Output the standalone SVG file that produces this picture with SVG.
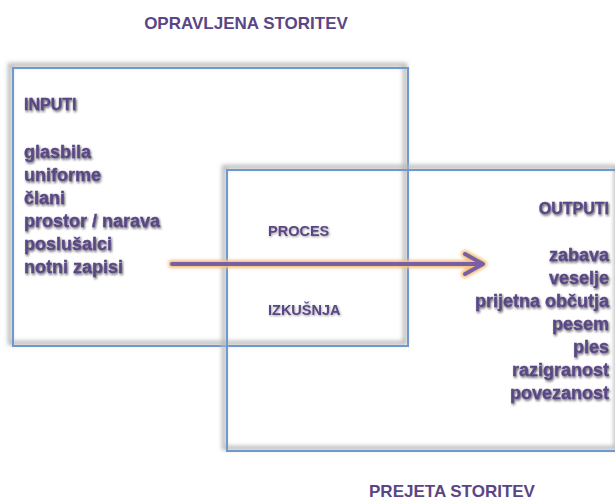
<svg xmlns="http://www.w3.org/2000/svg" width="615" height="500" viewBox="0 0 615 500">
<defs>
<style>
.t{font-family:"Liberation Sans",Arial,sans-serif;font-weight:bold;fill:#5a4686;}
.title{font-size:17px;}
.item{font-size:18px;filter:url(#shadow);stroke:#5a4686;stroke-width:0.3;}
.head{font-size:16px;filter:url(#shadow);stroke:#5a4686;stroke-width:0.3;}
.mid{font-size:14.5px;filter:url(#shadowS);}
.r{text-anchor:end;}
.box{fill:none;stroke:#6e98cf;stroke-width:2;}
.boxsh{fill:none;stroke:#b5b5b5;stroke-width:4;filter:url(#blur);}
</style>
<filter id="shadow" x="-10%" y="-30%" width="130%" height="170%">
<feDropShadow dx="1" dy="1.5" stdDeviation="1.3" flood-color="#1a1a1a" flood-opacity="0.7"/>
</filter>
<filter id="shadowS" x="-10%" y="-30%" width="130%" height="170%">
<feDropShadow dx="0.8" dy="1" stdDeviation="0.8" flood-color="#222" flood-opacity="0.45"/>
</filter>
<filter id="blur" x="-5%" y="-5%" width="110%" height="110%">
<feGaussianBlur stdDeviation="2"/>
</filter>
<filter id="glow" x="-10%" y="-100%" width="120%" height="300%">
<feGaussianBlur stdDeviation="1.5"/>
</filter>
</defs>
<rect width="615" height="500" fill="#ffffff"/>
<text class="t title" x="246" y="29" text-anchor="middle">OPRAVLJENA STORITEV</text>
<g id="opravljena">
<rect class="boxsh" x="10" y="65" width="395" height="278"/>
<rect class="box" x="13" y="68" width="395" height="278"/>
</g>
<g id="prejeta">
<rect class="boxsh" x="224" y="167" width="392" height="281"/>
<rect class="box" x="227" y="170" width="392" height="281"/>
</g>
<g id="inputi">
<text class="t head" x="24" y="110">INPUTI</text>
<text class="t item" x="24" y="158">glasbila</text>
<text class="t item" x="24" y="181">uniforme</text>
<text class="t item" x="24" y="204">člani</text>
<text class="t item" x="24" y="227">prostor / narava</text>
<text class="t item" x="24" y="250">poslušalci</text>
<text class="t item" x="24" y="273">notni zapisi</text>
</g>
<g id="proces">
<text class="t mid" x="268" y="236">PROCES</text>
<text class="t mid" x="268" y="315">IZKUŠNJA</text>
</g>
<g id="outputi">
<text class="t head r" x="609" y="214">OUTPUTI</text>
<text class="t item r" x="609" y="261">zabava</text>
<text class="t item r" x="609" y="284">veselje</text>
<text class="t item r" x="609" y="307">prijetna občutja</text>
<text class="t item r" x="609" y="330">pesem</text>
<text class="t item r" x="609" y="353">ples</text>
<text class="t item r" x="609" y="376">razigranost</text>
<text class="t item r" x="609" y="399">povezanost</text>
</g>
<g id="connectors">
<path d="M172 264 H482 M465 254 L483 264 L465 274" fill="none" stroke="#f3c37c" stroke-width="8" stroke-linecap="round" stroke-linejoin="round" filter="url(#glow)"/>
<path d="M172 264 H482 M465 254 L483 264 L465 274" fill="none" stroke="#7b5fa6" stroke-width="4" stroke-linecap="round" stroke-linejoin="round"/>
</g>
<text class="t title" x="452" y="497" text-anchor="middle">PREJETA STORITEV</text>
</svg>
